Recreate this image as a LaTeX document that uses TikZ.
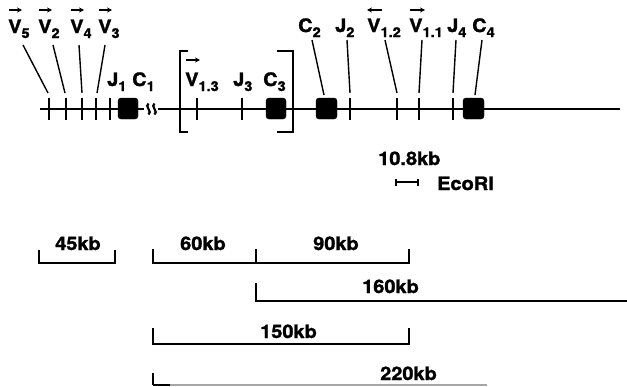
\documentclass[tikz,border=0pt]{standalone}
\usepackage{fontspec}
\newfontfamily\hv[FakeStretch=1.08, FakeBold=1.5]{TeX Gyre Heros}
\usetikzlibrary{arrows.meta}
\newcommand{\sbs}[1]{\raisebox{-5pt}{\fontsize{13.5}{14}\selectfont #1}}
\tikzset{
  lab/.style={inner sep=0pt, anchor=base west, font=\hv\bfseries\fontsize{18.5}{20}\selectfont},
  gene/.style={line width=2pt},
  lead/.style={line width=1.4pt},
  tk/.style={line width=1.6pt},
  seg/.style={line width=1.5pt},
  vec/.style={line width=1.3pt, -{Stealth[length=5pt,width=5pt]}},
  exon/.style={fill=black, draw=black, rounded corners=3pt},
}
\begin{document}
\begin{tikzpicture}[x=1pt,y=-1pt]
\useasboundingbox (0,0) rectangle (627,386);
% labels
\node[lab] (v5) at (8,33) {V\sbs{5}};
\node[lab] (v2) at (38,33) {V\sbs{2}};
\node[lab] (v4) at (70,33) {V\sbs{4}};
\node[lab] (v3) at (98,33) {V\sbs{3}};
\node[lab] (j1) at (107,86) {J\sbs{1}};
\node[lab] (c1) at (132,86) {C\sbs{1}};
\node[lab] (v13) at (185,86) {V\sbs{1.3}};
\node[lab] (j3) at (233,86) {J\sbs{3}};
\node[lab] (c3) at (263,86) {C\sbs{3}};
\node[lab] (c2) at (298,32) {C\sbs{2}};
\node[lab] (j2) at (335,32) {J\sbs{2}};
\node[lab] (v12) at (367,32) {V\sbs{1.2}};
\node[lab] (v11) at (409,32) {V\sbs{1.1}};
\node[lab] (j4) at (447,32) {J\sbs{4}};
\node[lab] (c4) at (472,32) {C\sbs{4}};
% direction arrows
\draw[vec] (9,10) -- (22,10);
\draw[vec] (39,10) -- (52,10);
\draw[vec] (71,10) -- (84,10);
\draw[vec] (99,10) -- (112,10);
\draw[vec] (186,60) -- (200,60);
\draw[vec] (382,10) -- (367,10);
\draw[vec] (410,10) -- (425,10);
% main line
\coordinate (L0) at (40,109);
\coordinate (L1) at (620,109);
\draw[gene] (L0) -- (L1);
% break mark
\fill[white] (144,102) rectangle (158,116);
\draw[line width=2.2pt] (148.5,103.5) .. controls (144,106) and (153,112) .. (148.5,114.5);
\draw[line width=2.2pt] (154.5,103.5) .. controls (150,106) and (159,112) .. (154.5,114.5);
% ticks
\foreach \n/\x in {t5/49,t2/66,t4/82,t3/96,tj1/110,tv13/197,tj3/242,tj2/350,tv12/397,tv11/419,tj4/453}{
  \coordinate (\n) at (\x,98);
  \draw[tk] (\n) -- ++(0,22);
}
% exons
\draw[exon] (118,98) rectangle (138,119);
\draw[exon] (266,98) rectangle (286,119);
\draw[exon] (316,98) rectangle (337,119);
\draw[exon] (463,98) rectangle (484,119);
\coordinate (bc2) at (324,95);
\coordinate (bc4) at (475,95);
% leaders
\draw[lead] (23,45) -- (48,93);
\draw[lead] (53,45) -- (65,93);
\draw[lead] (79,45) -- (82,93);
\draw[lead] (105,45) -- (97,93);
\draw[lead] (312,40) -- (bc2);
\draw[lead] (347,40) -- (350,93);
\draw[lead] (385,40) -- (397,93);
\draw[lead] (422,40) -- (419,93);
\draw[lead] (456,40) -- (453,93);
\draw[lead] (482,40) -- (bc4);
% brackets
\draw[gene] (188,51) -- (180,51) -- (180,132) -- (188,132);
\draw[gene] (277,51) -- (293,51) -- (293,132) -- (277,132);
% scale
\node[lab] (sc) at (378,165) {10.8kb};
\node[lab] (eco) at (437,190) {EcoRI};
\draw[line width=1.6pt] (396,182) -- (418,182);
\draw[line width=1.4pt] (396,178.5) -- (396,185.5) (418,178.5) -- (418,185.5);
% fragment brackets
\draw[seg] (39,250) -- (39,263) -- (115,263) -- (115,250);
\node[lab] (k45) at (55,250) {45kb};
\draw[seg] (153,249) -- (153,263) -- (409,263) -- (409,249);
\draw[seg] (256,249) -- (256,263);
\node[lab] (k60) at (180,250) {60kb};
\node[lab] (k90) at (313,250) {90kb};
\draw[seg] (256,283) -- (256,301) -- (627,301);
\node[lab] (k160) at (362,293) {160kb};
\draw[seg] (153,328) -- (153,344) -- (409,344) -- (409,328);
\node[lab] (k150) at (260,338) {150kb};
\draw[seg] (153,373) -- (153,385);
\draw[seg, black!35] (153,385) -- (487,385);
\draw[seg] (153,385) -- (170,385);
\node[lab] (k220) at (380,380) {220kb};
\end{tikzpicture}
\end{document}
